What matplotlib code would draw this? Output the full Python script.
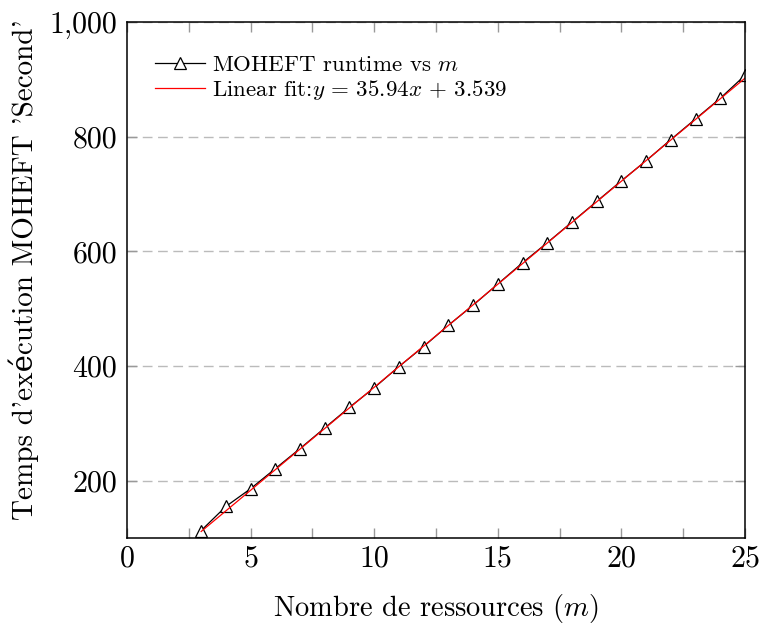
import matplotlib
matplotlib.use("Agg")
import matplotlib.pyplot as plt
import numpy as np
from matplotlib.ticker import FuncFormatter, MultipleLocator

# Measured runtimes (seconds) for m resources
m_values = [3, 4, 5, 6, 7, 8, 9, 10, 11, 12, 13, 14, 15, 16, 17, 18, 19, 20, 21, 22, 23, 24, 25]
runtimes = [113, 155, 186, 221, 256, 292, 328, 362, 399, 434, 471, 506, 543,
            580, 615, 651, 687, 723, 758, 795, 831, 867, 907]

# Linear fit coefficients
fit_slope = 35.94
fit_intercept = 3.539

plt.rcParams["font.family"] = ["cmr10", "DejaVu Serif"]
plt.rcParams["mathtext.fontset"] = "cm"
plt.rcParams["axes.unicode_minus"] = False

fig = plt.figure(figsize=(7.63, 6.26), dpi=100)
ax = fig.add_axes([127 / 763, 1 - 538 / 626, (745 - 127) / 763, (538 - 22) / 626])

ax.plot(m_values, runtimes, color="black", lw=0.9, marker="^", markersize=8.5,
        markerfacecolor="white", markeredgecolor="black", markeredgewidth=0.9,
        label=r"MOHEFT runtime vs $m$")
fit_x = np.array([m_values[0], m_values[-1]])
ax.plot(fit_x, fit_slope * fit_x + fit_intercept, color="red", lw=0.9,
        label=r"Linear fit:$y\,=\,35.94x\,+\,3.539$")

ax.set_xlim(0, 25)
ax.set_ylim(100, 1000)
ax.xaxis.set_major_locator(MultipleLocator(5))
ax.xaxis.set_minor_locator(MultipleLocator(2.5))
ax.set_yticks([200, 400, 600, 800, 1000])
ax.yaxis.set_major_formatter(FuncFormatter(lambda v, _: f"{int(v):,}"))

ax.tick_params(which="both", direction="in", length=7, width=1, color="#999999",
               top=True, right=True, labelsize=21.5)
ax.tick_params(axis="y", pad=7)
ax.tick_params(axis="x", pad=5)
ax.grid(axis="y", color="#bbbbbb", linestyle=(0, (7, 4)), lw=1)
for s in ax.spines.values():
    s.set_linewidth(1.1)

ax.set_xlabel(r"Nombre de ressources ($m$)", fontsize=20.5)
ax.set_ylabel("Temps d'exécution MOHEFT 'Second'", fontsize=21)
ax.xaxis.set_label_coords(0.5, -0.105)
ax.yaxis.set_label_coords(-0.142, 0.52)

ax.legend(loc="upper left", frameon=False, fontsize=16.5, handlelength=2.2,
          handletextpad=0.3, borderaxespad=0.0, borderpad=0.0, labelspacing=0.15,
          bbox_to_anchor=(28 / 618, 1 - 33 / 516))

fig.savefig("out.png", dpi=100)
